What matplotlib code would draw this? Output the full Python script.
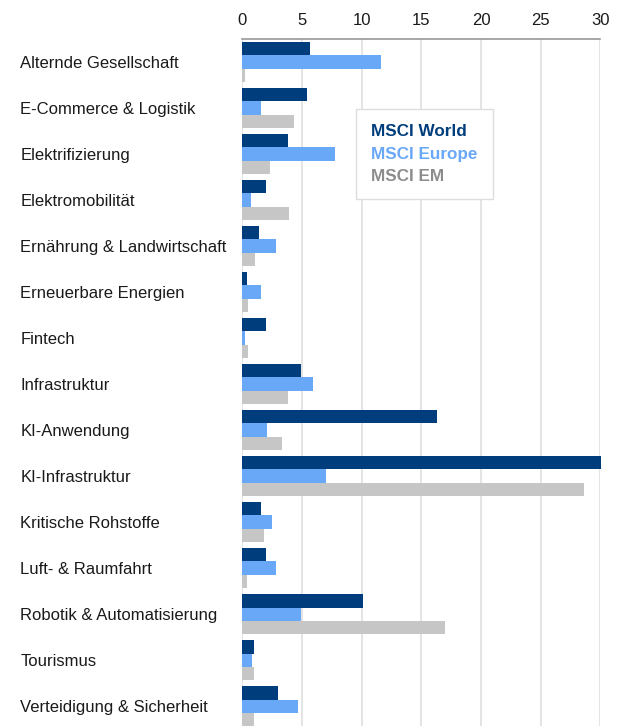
import matplotlib
matplotlib.use("Agg")
import matplotlib.pyplot as plt
import numpy as np

plt.rcParams['font.family'] = ['Liberation Sans', 'DejaVu Sans']

# themes, top to bottom
themes = [
    "Alternde Gesellschaft", "E-Commerce & Logistik", "Elektrifizierung",
    "Elektromobilität", "Ernährung & Landwirtschaft", "Erneuerbare Energien",
    "Fintech", "Infrastruktur", "KI-Anwendung", "KI-Infrastruktur",
    "Kritische Rohstoffe", "Luft- & Raumfahrt", "Robotik & Automatisierung",
    "Tourismus", "Verteidigung & Sicherheit",
]
msci_world = [5.7, 5.4, 3.8, 2.0, 1.4, 0.4, 2.0, 4.9, 16.3, 30.1, 1.6, 2.0, 10.1, 0.95, 3.0]
msci_europe = [11.6, 1.6, 7.8, 0.7, 2.8, 1.6, 0.25, 5.9, 2.1, 7.0, 2.5, 2.85, 4.9, 0.85, 4.7]
msci_em = [0.25, 4.3, 2.3, 3.9, 1.05, 0.45, 0.5, 3.8, 3.3, 28.6, 1.8, 0.4, 17.0, 1.0, 1.0]

series = [
    ("MSCI World", msci_world, "#003d7c", "#003d7c"),
    ("MSCI Europe", msci_europe, "#69a8f7", "#69a8f7"),
    ("MSCI EM", msci_em, "#c6c6c6", "#8c8c8c"),
]

fig = plt.figure(figsize=(6.2, 7.26), dpi=100)
ax = fig.add_axes([242.3 / 620, 0.0, 358 / 620, 1 - 39 / 726])

y = np.arange(len(themes))
h = 0.29
for i, (name, vals, col, _) in enumerate(series):
    ax.barh(y + (i - 1) * h, vals, height=h, color=col, zorder=3,
            clip_on=False, label=name)

ax.set_xlim(0, 30)
ax.set_ylim(14.43, -0.5)
ax.set_xticks(range(0, 31, 5))
ax.xaxis.tick_top()
ax.tick_params(axis='x', length=0, pad=8, labelsize=12, labelcolor="#1a1a1a")
ax.grid(axis='x', color="#e4e4e4", linewidth=1.4, zorder=0)

ax.set_yticks(y)
ax.set_yticklabels(themes, ha='left', fontsize=12, color="#1a1a1a")
ax.tick_params(axis='y', length=0, pad=222 * 0.72)

for s in ["left", "right", "bottom"]:
    ax.spines[s].set_visible(False)
ax.spines["top"].set_color("#909090")
ax.spines["top"].set_linewidth(1.1)

leg = ax.legend(handlelength=0, handletextpad=0, markerscale=0,
                loc="upper left", bbox_to_anchor=(356 / 620, 1 - 109 / 726),
                bbox_transform=fig.transFigure, fancybox=False, shadow=False,
                borderpad=0.9, labelspacing=0.42, borderaxespad=0,
                prop={"weight": "bold", "size": 12.3}, framealpha=1)
leg.get_frame().set_edgecolor("#dddddd")
leg.get_frame().set_linewidth(1.0)
for txt, hnd, (_, _, _, tcol) in zip(leg.get_texts(), leg.legend_handles, series):
    txt.set_color(tcol)
    hnd.set_visible(False)

fig.savefig("out.png", dpi=100)
